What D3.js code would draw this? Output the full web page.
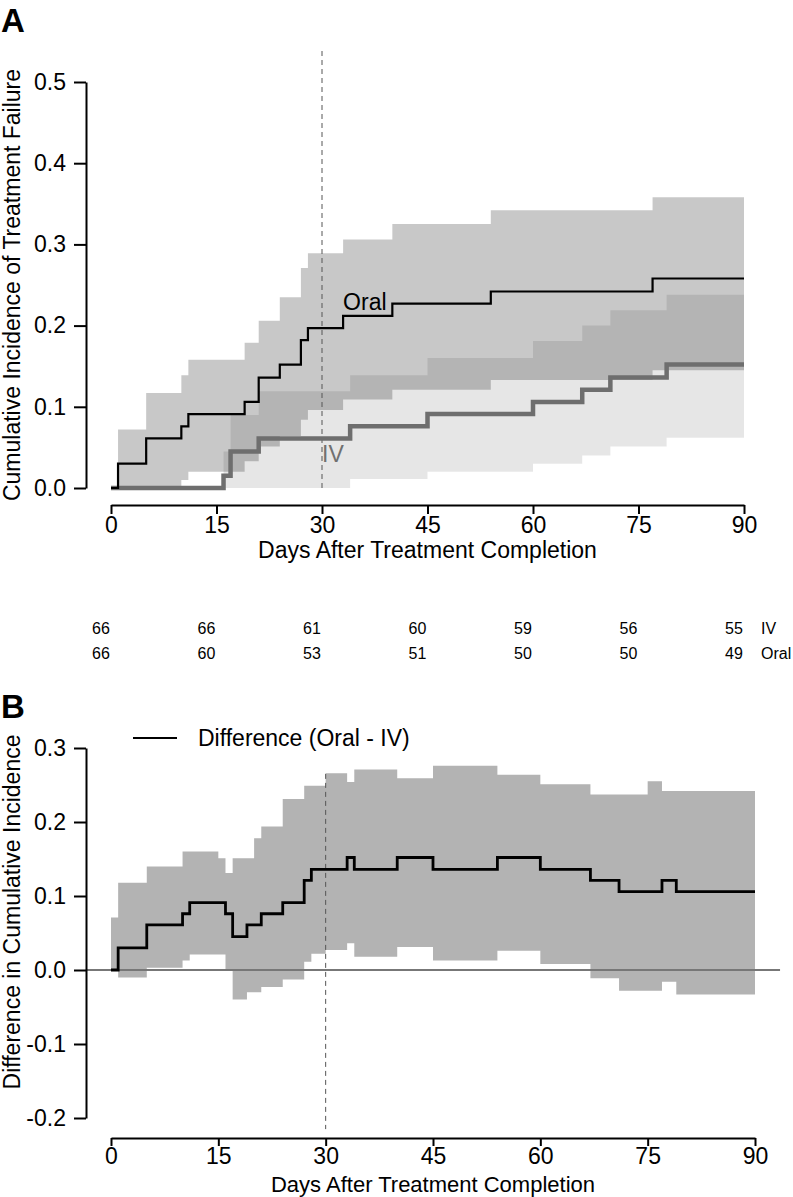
<!DOCTYPE html>
<html>
<head>
<meta charset="utf-8">
<script src="https://cdn.jsdelivr.net/npm/d3@7"></script>
<style>
  html, body { margin: 0; padding: 0; background: #fff; }
  svg { display: block; }
  text { font-family: "Liberation Sans", Arial, Helvetica, sans-serif; }
</style>
</head>
<body>
<svg id="chart" width="793" height="1197"></svg>
<script>
// ---------------- DATA ----------------
// Panel A: cumulative incidence step functions (day at which each step starts)
const oralTimes = [0, 1, 5, 10, 11, 19, 21, 24, 27, 28, 33, 40, 54, 77];
const oralEst   = [0, 0.030, 0.061, 0.076, 0.091, 0.106, 0.136, 0.152, 0.182, 0.197, 0.212, 0.227, 0.242, 0.258];

const ivTimes = [0, 16, 17, 21, 34, 45, 60, 67, 71, 79];
const ivEst   = [0, 0.015, 0.045, 0.061, 0.076, 0.091, 0.106, 0.121, 0.136, 0.152];

// Confidence bands (Panel A)
const oralBandTimes = [1, 5, 10, 11, 19, 21, 24, 27, 28, 33, 40, 54, 77];
const oralBandUpper = [0.072, 0.117, 0.139, 0.158, 0.179, 0.206, 0.235, 0.271, 0.289, 0.306, 0.325, 0.342, 0.358];
const oralBandLower = [0.000, 0.000, 0.010, 0.020, 0.033, 0.051, 0.064, 0.084, 0.096, 0.109, 0.121, 0.133, 0.145];

const ivBandTimes = [16, 17, 21, 34, 45, 60, 67, 71, 79];
const ivBandUpper = [0.045, 0.090, 0.119, 0.139, 0.160, 0.181, 0.200, 0.219, 0.238];
const ivBandLower = [0.000, 0.000, 0.000, 0.011, 0.020, 0.030, 0.040, 0.051, 0.062];

// Panel A axes and risk table
const xTicks = [0, 15, 30, 45, 60, 75, 90];
const yTicksA = [0.0, 0.1, 0.2, 0.3, 0.4, 0.5];
const riskDays = [0, 15, 30, 45, 60, 75, 90];
const riskIV   = [66, 66, 61, 60, 59, 56, 55];
const riskOral = [66, 60, 53, 51, 50, 50, 49];

// Panel B: difference (Oral - IV)
const diffTimes = [0, 1, 5, 10, 11, 16, 17, 19, 21, 24, 27, 28, 33, 34, 40, 45, 54, 60, 67, 71, 77, 79];
const diffEst   = [0, 0.030, 0.061, 0.076, 0.091, 0.076, 0.045, 0.061, 0.076, 0.091, 0.121, 0.136, 0.152, 0.136, 0.152, 0.136, 0.152, 0.136, 0.121, 0.106, 0.121, 0.106];

const diffBandTimes = [0, 1, 5, 10, 11, 15, 16, 17, 19, 20, 21, 24, 27, 28, 30, 33, 34, 40, 45, 54, 60, 67, 71, 75, 77, 79];
const diffBandUpper = [0.071, 0.118, 0.140, 0.160, 0.160, 0.151, 0.131, 0.151, 0.151, 0.178, 0.194, 0.231, 0.249, 0.249, 0.266, 0.254, 0.271, 0.259, 0.276, 0.264, 0.251, 0.237, 0.237, 0.255, 0.242, 0.242];
const diffBandLower = [0.000, -0.010, 0.003, 0.013, 0.021, 0.021, 0.000, -0.040, -0.030, -0.030, -0.023, -0.013, 0.011, 0.022, 0.027, 0.036, 0.018, 0.031, 0.013, 0.026, 0.008, -0.011, -0.028, -0.028, -0.016, -0.033];

const yTicksB = [-0.2, -0.1, 0.0, 0.1, 0.2, 0.3];

// ---------------- HELPERS ----------------
const END_DAY = 90;
function steps(times, vals) {
  const p = times.map((t, i) => ({ t, v: vals[i] }));
  p.push({ t: END_DAY, v: vals[vals.length - 1] });
  return p;
}
function bandSteps(times, lo, hi) {
  const p = times.map((t, i) => ({ t, lo: lo[i], hi: hi[i] }));
  p.push({ t: END_DAY, lo: lo[lo.length - 1], hi: hi[hi.length - 1] });
  return p;
}

const svg = d3.select("#chart");
const FONT = 23;

// ---------------- PANEL A ----------------
const xA = d3.scaleLinear().domain([0, 90]).range([111, 744]);
const yA = d3.scaleLinear().domain([0, 0.5]).range([488, 82]);
const gA = svg.append("g");

const areaA = d3.area().curve(d3.curveStepAfter)
  .x(d => xA(d.t)).y0(d => yA(d.lo)).y1(d => yA(d.hi));
const lineA = d3.line().curve(d3.curveStepAfter)
  .x(d => xA(d.t)).y(d => yA(d.v));

gA.append("path").datum(bandSteps(oralBandTimes, oralBandLower, oralBandUpper))
  .attr("d", areaA).attr("fill", "#000").attr("fill-opacity", 0.216);
gA.append("path").datum(bandSteps(ivBandTimes, ivBandLower, ivBandUpper))
  .attr("d", areaA).attr("fill", "#000").attr("fill-opacity", 0.098);

// reference line at day 30
gA.append("line")
  .attr("x1", xA(30)).attr("x2", xA(30))
  .attr("y1", yA(0)).attr("y2", yA(0.54))
  .attr("stroke", "#555").attr("stroke-width", 1).attr("stroke-dasharray", "5,4");

gA.append("path").datum(steps(ivTimes, ivEst))
  .attr("d", lineA).attr("fill", "none").attr("stroke", "#6e6e6e").attr("stroke-width", 4.5);
gA.append("path").datum(steps(oralTimes, oralEst))
  .attr("d", lineA).attr("fill", "none").attr("stroke", "#000").attr("stroke-width", 2.2);

gA.append("text").attr("x", xA(33)).attr("y", yA(0.219))
  .attr("font-size", FONT).attr("fill", "#000").text("Oral");
gA.append("text").attr("x", xA(30)).attr("y", yA(0.032))
  .attr("font-size", FONT).attr("fill", "#707070").text("IV");

// axes A
function styleAxis(g) {
  g.selectAll("path.domain").attr("stroke", "#000").attr("stroke-width", 2);
  g.selectAll(".tick line").attr("stroke", "#000").attr("stroke-width", 2);
  g.selectAll(".tick text").attr("font-size", FONT).attr("fill", "#000")
    .attr("font-family", '"Liberation Sans", Arial, Helvetica, sans-serif');
}
const xAxisA = gA.append("g").attr("transform", "translate(0,505)")
  .call(d3.axisBottom(xA).tickValues(xTicks).tickSize(9).tickSizeOuter(0).tickPadding(3).tickFormat(d => String(d)));
styleAxis(xAxisA);
const yAxisA = gA.append("g").attr("transform", "translate(86,0)")
  .call(d3.axisLeft(yA).tickValues(yTicksA).tickSize(12).tickSizeOuter(0).tickPadding(8).tickFormat(d => d.toFixed(1)));
styleAxis(yAxisA);

gA.append("text").attr("x", (xA(0) + xA(90)) / 2).attr("y", 558)
  .attr("text-anchor", "middle").attr("font-size", FONT).text("Days After Treatment Completion");
gA.append("text")
  .attr("transform", `translate(20,${(yA(0) + yA(0.5)) / 2}) rotate(-90)`)
  .attr("text-anchor", "middle").attr("font-size", FONT).text("Cumulative Incidence of Treatment Failure");

svg.append("text").attr("x", 1).attr("y", 32).attr("font-size", 33).attr("font-weight", "bold").text("A");

// risk table
const RISK_FONT = 16;
riskDays.forEach((d, i) => {
  svg.append("text").attr("x", xA(d) - 10).attr("y", 634).attr("text-anchor", "middle")
    .attr("font-size", RISK_FONT).text(riskIV[i]);
  svg.append("text").attr("x", xA(d) - 10).attr("y", 659).attr("text-anchor", "middle")
    .attr("font-size", RISK_FONT).text(riskOral[i]);
});
svg.append("text").attr("x", xA(90) + 17).attr("y", 634).attr("font-size", RISK_FONT).text("IV");
svg.append("text").attr("x", xA(90) + 17).attr("y", 659).attr("font-size", RISK_FONT).text("Oral");

// ---------------- PANEL B ----------------
const xB = d3.scaleLinear().domain([0, 90]).range([111, 755]);
const yB = d3.scaleLinear().domain([-0.2, 0.3]).range([1118, 748]);
const gB = svg.append("g");

const areaB = d3.area().curve(d3.curveStepAfter)
  .x(d => xB(d.t)).y0(d => yB(d.lo)).y1(d => yB(d.hi));
const lineB = d3.line().curve(d3.curveStepAfter)
  .x(d => xB(d.t)).y(d => yB(d.v));

gB.append("path").datum(bandSteps(diffBandTimes, diffBandLower, diffBandUpper))
  .attr("d", areaB).attr("fill", "#b3b3b3");

gB.append("line")
  .attr("x1", xB(-3.5)).attr("x2", xB(93.5))
  .attr("y1", yB(0)).attr("y2", yB(0))
  .attr("stroke", "#777").attr("stroke-width", 2);

gB.append("line")
  .attr("x1", xB(30)).attr("x2", xB(30))
  .attr("y1", yB(0.265)).attr("y2", yB(-0.215))
  .attr("stroke", "#555").attr("stroke-width", 1).attr("stroke-dasharray", "5,4");

gB.append("path").datum(steps(diffTimes, diffEst))
  .attr("d", lineB).attr("fill", "none").attr("stroke", "#000").attr("stroke-width", 2.8);

const xAxisB = gB.append("g").attr("transform", "translate(0,1138)")
  .call(d3.axisBottom(xB).tickValues(xTicks).tickSize(8).tickSizeOuter(0).tickPadding(2).tickFormat(d => String(d)));
styleAxis(xAxisB);
const yAxisB = gB.append("g").attr("transform", "translate(86,0)")
  .call(d3.axisLeft(yB).tickValues(yTicksB).tickSize(12).tickSizeOuter(0).tickPadding(8).tickFormat(d => d.toFixed(1)));
styleAxis(yAxisB);

gB.append("text").attr("x", (xB(0) + xB(90)) / 2).attr("y", 1192)
  .attr("text-anchor", "middle").attr("font-size", 22).text("Days After Treatment Completion");
gB.append("text")
  .attr("transform", `translate(20,912) rotate(-90)`)
  .attr("text-anchor", "middle").attr("font-size", FONT).text("Difference in Cumulative Incidence");

// legend
gB.append("line").attr("x1", 133).attr("x2", 177).attr("y1", 738).attr("y2", 738)
  .attr("stroke", "#000").attr("stroke-width", 2);
gB.append("text").attr("x", 198).attr("y", 746).attr("font-size", FONT).text("Difference (Oral - IV)");

svg.append("text").attr("x", 1).attr("y", 718).attr("font-size", 33).attr("font-weight", "bold").text("B");
</script>
</body>
</html>
